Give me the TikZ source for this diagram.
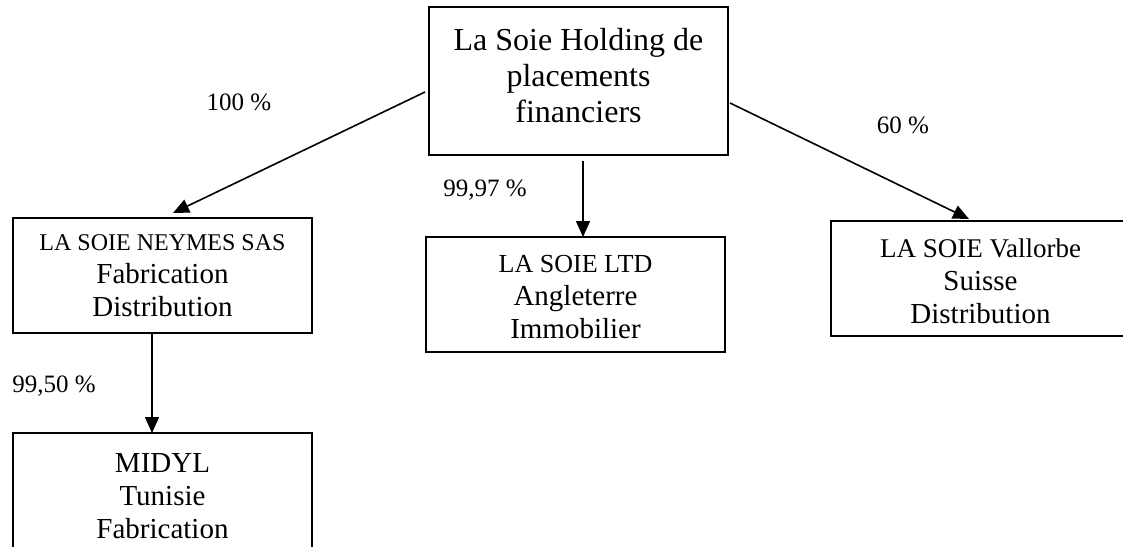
\documentclass[tikz,border=0pt]{standalone}
\usepackage{fontspec}
\setmainfont{Liberation Serif}
\usetikzlibrary{arrows.meta}
\begin{document}
\begin{tikzpicture}[x=1pt,y=-1pt,
  entity/.style={draw=black, line width=2pt, rectangle, align=center,
    inner sep=0pt, outer sep=0pt, minimum width=299pt, minimum height=115pt,
    font=\fontsize{29}{33}\selectfont},
  share/.style={-{Triangle[length=16pt,width=14pt]}, line width=1.6pt},
  pct/.style={font=\fontsize{25}{28}\selectfont, inner sep=0pt}]
\useasboundingbox (0,0) rectangle (1123,546);
\clip (0,0) rectangle (1123,546);

% holding company
\node[entity, minimum height=148pt, font=\fontsize{32}{36}\selectfont]
  (holding) at (578.5,81)
  {\rule{0pt}{24pt}La Soie Holding de\\placements\\financiers\rule[-14pt]{0pt}{14pt}};

% subsidiaries
\node[entity] (neymes) at (162.5,275.5)
  {\rule{0pt}{21pt}{\fontsize{24}{33}\selectfont LA SOIE NEYMES SAS}\\Fabrication\\Distribution\rule[-6pt]{0pt}{6pt}};
\node[entity] (ltd) at (575.5,294.5)
  {\rule{0pt}{26pt}{\fontsize{26}{33}\selectfont LA SOIE LTD}\\Angleterre\\Immobilier\rule[-5pt]{0pt}{5pt}};
\node[entity] (vallorbe) at (980.5,278.5)
  {\rule{0pt}{28pt}{\fontsize{27}{33}\selectfont LA SOIE Vallorbe}\\Suisse\\Distribution\rule[-5pt]{0pt}{5pt}};
\node[entity] (midyl) at (162.5,490.5)
  {\rule{0pt}{34pt}MIDYL\\Tunisie\\Fabrication\rule[-5pt]{0pt}{5pt}};

% ownership links
\draw[share] ([xshift=-4pt,yshift=-11pt]holding.west) -- ([xshift=10.5pt,yshift=5pt]neymes.north);
\draw[share] ([xshift=4.5pt,yshift=-6pt]holding.south) -- ([xshift=7.5pt]ltd.north);
\draw[share] ([xshift=2pt,yshift=-22pt]holding.east) -- ([xshift=-11.5pt,yshift=2pt]vallorbe.north);
\draw[share] ([xshift=-10.5pt]neymes.south) -- ([xshift=-10.5pt]midyl.north);

% shares held
\node[pct] (p100) at (239,102) {100 \%};
\node[pct] (p9997) at (485,190) {99,97 \%};
\node[pct] (p60) at (903,125) {60 \%};
\node[pct] (p9950) at (54,386) {99,50 \%};
\end{tikzpicture}
\end{document}
